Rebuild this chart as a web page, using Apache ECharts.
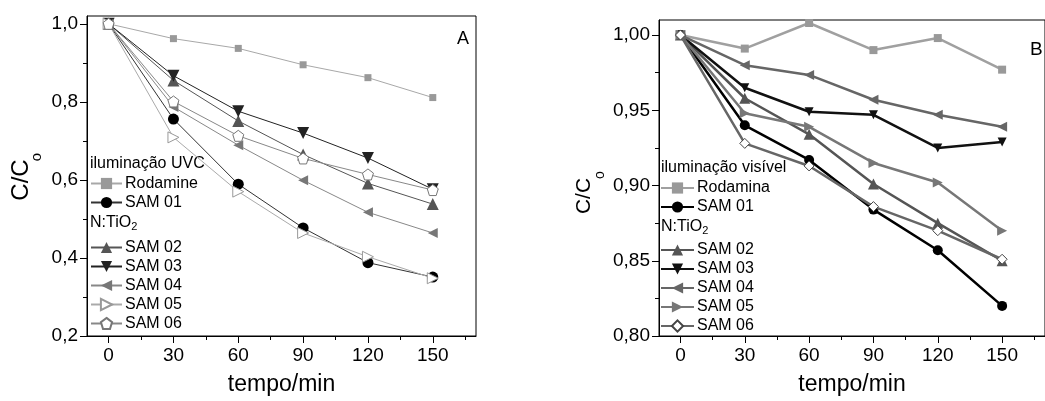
<!DOCTYPE html>
<html>
<head>
<meta charset="utf-8">
<script src="https://cdn.jsdelivr.net/npm/echarts@6/dist/echarts.min.js"></script>
<style>
html, body { margin: 0; padding: 0; background: #fff; }
#main { width: 1045px; height: 401px; }
</style>
</head>
<body>
<div id="main"></div>
<script>
var tempo = [0, 30, 60, 90, 120, 150];

// painel A - iluminação UVC
var uvcRodamine = [1.0, 0.962, 0.937, 0.895, 0.862, 0.811];
var uvcSam01 = [1.0, 0.756, 0.589, 0.477, 0.388, 0.351];
var uvcSam02 = [1.0, 0.855, 0.751, 0.665, 0.591, 0.538];
var uvcSam03 = [1.0, 0.867, 0.776, 0.720, 0.656, 0.576];
var uvcSam04 = [1.0, 0.787, 0.689, 0.599, 0.517, 0.464];
var uvcSam05 = [1.0, 0.709, 0.570, 0.464, 0.403, 0.348];
var uvcSam06 = [1.0, 0.801, 0.713, 0.655, 0.614, 0.574];

// painel B - iluminação visível
var visRodamina = [1.0, 0.991, 1.008, 0.990, 0.998, 0.977];
var visSam01 = [1.0, 0.940, 0.917, 0.884, 0.857, 0.820];
var visSam02 = [1.0, 0.958, 0.934, 0.901, 0.875, 0.850];
var visSam03 = [1.0, 0.965, 0.949, 0.947, 0.925, 0.929];
var visSam04 = [1.0, 0.980, 0.9735, 0.957, 0.947, 0.939];
var visSam05 = [1.0, 0.948, 0.939, 0.915, 0.902, 0.870];
var visSam06 = [1.0, 0.928, 0.913, 0.886, 0.870, 0.851];

var xTicks = [0, 30, 60, 90, 120, 150];
var xMinor = [15, 45, 75, 105, 135, 165];
var yTicksA = [0.2, 0.4, 0.6, 0.8, 1.0];
var yMinorA = [0.3, 0.5, 0.7, 0.9];
var yTicksB = [0.80, 0.85, 0.90, 0.95, 1.00];
var yMinorB = [0.825, 0.875, 0.925, 0.975];

var FONT = '"Liberation Sans", Arial, sans-serif';
var pentagon = 'path://M50 0L97.6 34.5L79.4 90.5L20.6 90.5L2.4 34.5Z';

function pairs(vals) {
    return tempo.map(function (t, i) { return [t, vals[i]]; });
}

function xAxes(grid) {
    return [{
        type: 'value', gridIndex: grid, min: -10, max: 170, position: 'bottom',
        axisLine: { onZero: false, lineStyle: { color: '#000', width: 1 } },
        axisTick: { customValues: xTicks, length: 7, lineStyle: { color: '#000' } },
        axisLabel: { customValues: xTicks, fontSize: 19, color: '#000', margin: 10, fontFamily: FONT },
        splitLine: { show: false },
        name: 'tempo/min', nameLocation: 'middle', nameGap: 37,
        nameTextStyle: { fontSize: 23, color: '#000', fontFamily: FONT, verticalAlign: 'top' }
    }, {
        type: 'value', gridIndex: grid, min: -10, max: 170, position: 'bottom',
        axisLine: { show: false, onZero: false },
        axisTick: { customValues: xMinor, length: 4, lineStyle: { color: '#000' } },
        axisLabel: { show: false },
        splitLine: { show: false }
    }];
}

function yAxes(grid, min, max, ticks, minor, dec) {
    return [{
        type: 'value', gridIndex: grid, min: min, max: max, position: 'left',
        axisLine: { onZero: false, lineStyle: { color: '#000', width: 1 } },
        axisTick: { customValues: ticks, length: 7, lineStyle: { color: '#000' } },
        axisLabel: {
            customValues: ticks, fontSize: 19, color: '#000', margin: 9, fontFamily: FONT,
            formatter: function (v) { return v.toFixed(dec).replace('.', ','); }
        },
        splitLine: { show: false }
    }, {
        type: 'value', gridIndex: grid, min: min, max: max, position: 'left',
        axisLine: { show: false, onZero: false },
        axisTick: { customValues: minor, length: 4, lineStyle: { color: '#000' } },
        axisLabel: { show: false },
        splitLine: { show: false }
    }];
}

function line(name, vals, ax, opt) {
    return {
        type: 'line', name: name, data: pairs(vals),
        xAxisIndex: ax, yAxisIndex: ax,
        symbol: opt.symbol, symbolSize: opt.size, symbolRotate: opt.rotate || 0,
        showAllSymbol: true,
        lineStyle: { color: opt.line, width: opt.width },
        itemStyle: { color: opt.fill, borderColor: opt.border || opt.fill, borderWidth: opt.border ? 1 : 0, opacity: 1 },
        emphasis: { disabled: true },
        z: opt.z || 2
    };
}

function legend(names, left, top, iw) {
    return {
        orient: 'vertical', left: left, top: top, data: names,
        itemWidth: iw, itemHeight: 14, itemGap: 3, padding: 0,
        selectedMode: false,
        formatter: function (n) { return n.slice(2); },
        textStyle: { fontSize: 16, lineHeight: 14, color: '#000', fontFamily: FONT, padding: [0, 0, 0, -2] }
    };
}

function sub(x, y, main, s, size) {
    return {
        type: 'text', left: x, top: y,
        style: {
            rich: {
                a: { fontSize: size, fontFamily: FONT, fill: '#000', lineHeight: 18 },
                b: { fontSize: 11, fontFamily: FONT, fill: '#000', verticalAlign: 'bottom', lineHeight: 12, padding: [8, 0, 0, 0] }
            },
            text: '{a|' + main + '}{b|' + s + '}'
        }
    };
}

var myChart = echarts.init(document.getElementById('main'));
var option = {
    backgroundColor: '#fff',
    animation: false,
    grid: [
        { left: 87, top: 16, width: 389, height: 323, show: true, borderColor: '#000', borderWidth: 1 },
        { left: 659, top: 20, width: 395, height: 320, show: true, borderColor: '#000', borderWidth: 1 }
    ],
    xAxis: xAxes(0).concat(xAxes(1)),
    yAxis: yAxes(0, 0.2, 1.02, yTicksA, yMinorA, 1).concat(yAxes(1, 0.8, 1.01, yTicksB, yMinorB, 2)),
    legend: [
        legend(['A:Rodamine', 'A:SAM 01'], 90, 175.5, 31),
        legend(['A:SAM 02', 'A:SAM 03', 'A:SAM 04', 'A:SAM 05', 'A:SAM 06'], 90, 239.5, 31),
        legend(['B:Rodamina', 'B:SAM 01'], 660, 180, 33),
        legend(['B:SAM 02', 'B:SAM 03', 'B:SAM 04', 'B:SAM 05', 'B:SAM 06'], 660, 242, 33)
    ],
    series: [
        line('A:Rodamine', uvcRodamine, 0, { symbol: 'rect', size: 7, line: '#a8a8a8', fill: '#999', width: 1 }),
        line('A:SAM 01', uvcSam01, 0, { symbol: 'circle', size: 11, line: '#333', fill: '#000', width: 1 }),
        line('A:SAM 02', uvcSam02, 0, { symbol: 'triangle', size: 12, line: '#555', fill: '#555', width: 1 }),
        line('A:SAM 03', uvcSam03, 0, { symbol: 'triangle', size: 12, rotate: 180, line: '#222', fill: '#222', width: 1 }),
        line('A:SAM 04', uvcSam04, 0, { symbol: 'triangle', size: 10, rotate: 90, line: '#888', fill: '#777', width: 1 }),
        line('A:SAM 05', uvcSam05, 0, { symbol: 'triangle', size: 11, rotate: -90, line: '#aaa', fill: '#fff', border: '#999', width: 1 }),
        line('A:SAM 06', uvcSam06, 0, { symbol: pentagon, size: 11, line: '#888', fill: '#fff', border: '#777', width: 1, z: 3 }),

        line('B:Rodamina', visRodamina, 2, { symbol: 'rect', size: 8, line: '#a0a0a0', fill: '#999', width: 2.5 }),
        line('B:SAM 01', visSam01, 2, { symbol: 'circle', size: 10, line: '#000', fill: '#000', width: 2.5 }),
        line('B:SAM 02', visSam02, 2, { symbol: 'triangle', size: 11, line: '#555', fill: '#555', width: 2.5 }),
        line('B:SAM 03', visSam03, 2, { symbol: 'triangle', size: 9, rotate: 180, line: '#111', fill: '#111', width: 2.5 }),
        line('B:SAM 04', visSam04, 2, { symbol: 'triangle', size: 10, rotate: 90, line: '#666', fill: '#666', width: 2.5 }),
        line('B:SAM 05', visSam05, 2, { symbol: 'triangle', size: 10, rotate: -90, line: '#777', fill: '#777', width: 2.5 }),
        line('B:SAM 06', visSam06, 2, { symbol: 'diamond', size: 10, line: '#666', fill: '#fff', border: '#444', width: 2.5, z: 3 })
    ],
    graphic: [
        { type: 'text', left: 457, top: 30, style: { text: 'A', fontSize: 18, fontFamily: FONT, fill: '#000' } },
        { type: 'text', left: 1030, top: 40, style: { text: 'B', fontSize: 19, fontFamily: FONT, fill: '#000' } },
        { type: 'text', left: 90, top: 156, style: { text: 'iluminação UVC', fontSize: 16, fontFamily: FONT, fill: '#000' } },
        { type: 'text', left: 661, top: 160, style: { text: 'iluminação visível', fontSize: 16, fontFamily: FONT, fill: '#000' } },
        sub(90, 213, 'N:TiO', '2', 16),
        sub(661, 217, 'N:TiO', '2', 16),
        // C/Co rotacionado
        { type: 'text', x: 21, y: 180, rotation: Math.PI / 2,
          style: { text: 'C/C', fontSize: 24, fontFamily: FONT, fill: '#000', align: 'center', verticalAlign: 'middle' } },
        { type: 'text', x: 37, y: 157, rotation: Math.PI / 2,
          style: { text: 'o', fontSize: 15, fontFamily: FONT, fill: '#000', align: 'center', verticalAlign: 'middle' } },
        { type: 'text', x: 584, y: 196, rotation: Math.PI / 2,
          style: { text: 'C/C', fontSize: 21, fontFamily: FONT, fill: '#000', align: 'center', verticalAlign: 'middle' } },
        { type: 'text', x: 600, y: 175, rotation: Math.PI / 2,
          style: { text: 'o', fontSize: 14, fontFamily: FONT, fill: '#000', align: 'center', verticalAlign: 'middle' } }
    ]
};
myChart.setOption(option);
</script>
</body>
</html>
